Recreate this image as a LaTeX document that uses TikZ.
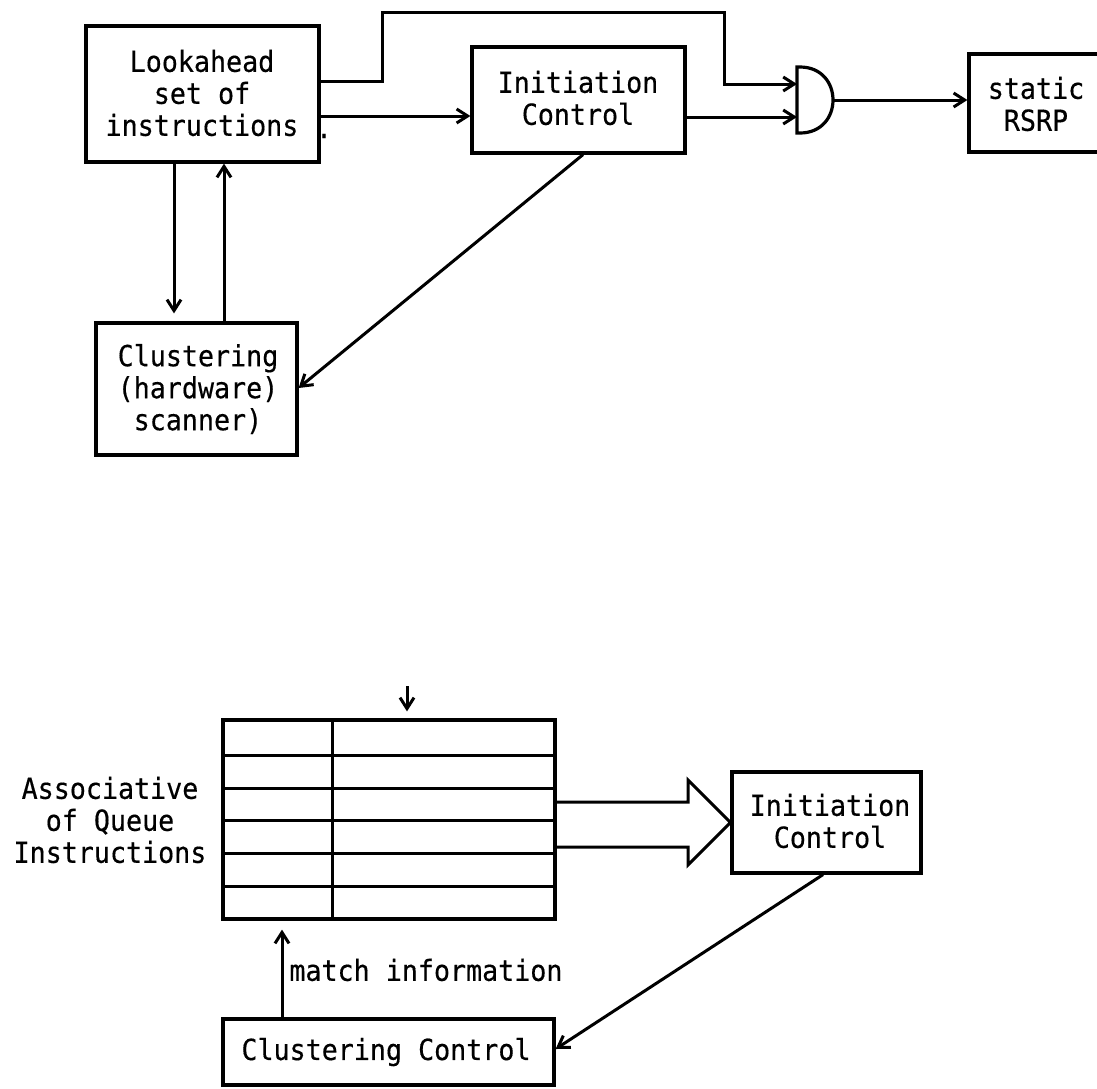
\documentclass[tikz,border=0pt]{standalone}
\usepackage{fontspec}
\newfontfamily\monofont[FakeStretch=0.92,FakeBold=0.4]{DejaVu Sans Mono}
\usetikzlibrary{arrows.meta,fit}
\begin{document}
\begin{tikzpicture}[x=0.5pt,y=-0.5pt,
  lbl/.style={font=\monofont\fontsize{14.5}{16}\selectfont, align=center, inner sep=0pt},
  blk/.style={draw, line width=1.6pt, inner sep=0pt},
  wire/.style={line width=1.5pt},
  arr/.style={wire, -{Straight Barb[length=5.5pt,width=7pt]}},
]
\clip (0,0) rectangle (1097,1088);

% ---------- lookahead scheme ----------
\node[blk, fit={(86,26)(319,162)}] (la) {};
\node[lbl] (la-text) at (202,93) {Lookahead\\set of\\instructions};
\node[lbl] (la-dot) at (324,136) {.};
\node[blk, fit={(472,47)(685,153)}] (ic) {};
\node[lbl] (ic-text) at (578,98) {Initiation\\Control};
\node[blk, fit={(96,323)(297,455)}] (cs) {};
\node[lbl] (cs-text) at (198,389) {Clustering\\(hardware)\\scanner)};
\node[blk, fit={(969,54)(1130,152)}] (rsrp) {};
\node[lbl] (rsrp-text) at (1036,104) {static\\RSRP};

% AND gate
\draw[line width=1.6pt] (797,67) -- (800,67) .. controls (844,67) and (844,133) .. (800,133) -- (797,133) -- cycle;
\coordinate (gin1) at (797,84);
\coordinate (gin2) at (797,117);
\coordinate (gout) at (833,100);

\draw[arr] (la.east |- 0,81) -- (382,81) -- (382,12) -- (724,12) -- (724,84) -- (gin1);
\draw[arr] (la.east |- 0,116) -- (ic.west |- 0,116);
\draw[arr] (ic.east |- gin2) -- (gin2);
\draw[arr] (gout) -- (rsrp.west |- gout);
\draw[arr, shorten >=4pt] (la.south -| 174,0) -- (cs.north -| 174,0);
\draw[arr] (cs.north -| 224,0) -- (la.south -| 224,0);
\draw[arr] (ic.south -| 583,0) -- (cs.east |- 0,388);

% ---------- associative queue scheme ----------
\node[blk, fit={(223,720)(555,919)}] (queue) {};
\draw[wire] (queue.north -| 332,0) -- (queue.south -| 332,0);
\foreach \yy in {755,788,820,853,886}
  \draw[wire] (queue.west |- 0,\yy) -- (queue.east |- 0,\yy);
\coordinate (feed) at (407,686);
\draw[arr, shorten >=3.5pt] (feed) -- (queue.north -| feed);

\node[lbl] (assoc) at (110,820) {Associative\\of Queue\\Instructions};
\node[blk, fit={(732,772)(921,873)}] (ic2) {};
\node[lbl] (ic2-text) at (830,821) {Initiation\\Control};

% wide (hollow) transfer arrow
\draw[wire, line join=miter] (queue.east |- 0,802) -- (688,802) -- (688,780) -- (ic2.west)
  -- (688,865) -- (688,847) -- (queue.east |- 0,847);

\node[blk, fit={(223,1019)(554,1085)}] (cc) {};
\node[lbl] (cc-text) at (386,1052) {Clustering Control};
\draw[arr] (ic2.south -| 823,0) -- (cc.east |- 0,1049);
\draw[arr, shorten >=4.5pt] (cc.north -| 282,0) -- (queue.south -| 282,0);
\node[lbl, anchor=west] (match) at (289,970) {match information};
\end{tikzpicture}
\end{document}
